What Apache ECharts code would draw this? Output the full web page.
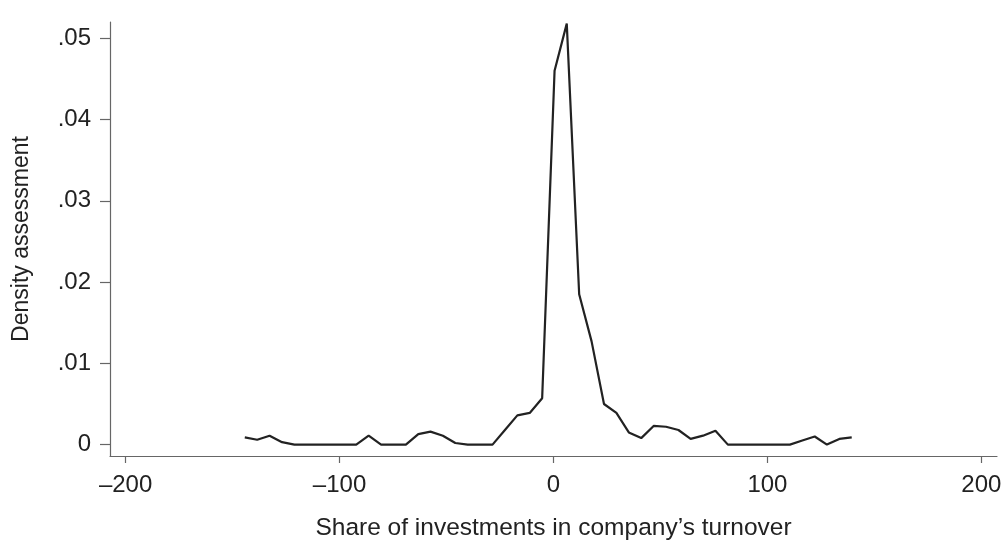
<!DOCTYPE html>
<html>
<head>
<meta charset="utf-8">
<script src="https://cdn.jsdelivr.net/npm/echarts@6/dist/echarts.min.js"></script>
<style>html,body{margin:0;padding:0;background:#fff;}#c{width:1003px;height:542px;}</style>
</head>
<body>
<div id="c"></div>
<script>
var xValues = [-144.3,-138.5,-132.7,-126.9,-121.1,-115.4,-109.6,-103.8,-98.0,-92.2,
  -86.4,-80.6,-74.8,-69.0,-63.2,-57.5,-51.7,-45.9,-40.1,-34.3,
  -28.5,-22.7,-16.9,-11.1,-5.3,0.5,6.2,12.0,17.8,23.6,
  29.4,35.2,41.0,46.8,52.6,58.4,64.1,69.9,75.7,81.5,
  87.3,93.1,98.9,104.7,110.5,116.3,122.1,127.8,133.6,139.4];
var density = [0.0009,0.0006,0.0011,0.0003,0,0,0,0,0,0,
  0.0011,0,0,0,0.0013,0.0016,0.0011,0.0002,0,0,
  0,0.0018,0.0036,0.0039,0.0057,0.0460,0.0518,0.0185,0.0127,0.0050,
  0.0039,0.0015,0.0008,0.0023,0.0022,0.0018,0.0007,0.0011,0.0017,0,
  0,0,0,0,0,0.0005,0.0010,0,0.0007,0.0009];
var xTicks = [-200,-100,0,100,200];
var yTicks = [0,0.01,0.02,0.03,0.04,0.05];
var xTitle = 'Share of investments in company\u2019s turnover';
var yTitle = 'Density assessment';

var pts = xValues.map(function(x,i){return [x, density[i]];});
var chart = echarts.init(document.getElementById('c'), null, {renderer:'canvas'});
var font = 'Liberation Sans';
chart.setOption({
  animation: false,
  grid: {left:110, right:6, top:22, bottom:86, containLabel:false, outerBoundsMode:'none'},
  xAxis: {
    type:'value', min:-207.3, max:207.3,
    axisLine:{show:true, onZero:false, lineStyle:{color:'#666', width:1.2}},
    axisTick:{show:true, length:7, customValues:xTicks, lineStyle:{color:'#666', width:1.2}},
    axisLabel:{customValues:xTicks, color:'#222', fontFamily:font, fontSize:24, margin:17,
      formatter:function(v){return String(v).replace('-', '\u2013');}},
    splitLine:{show:false},
    name: xTitle, nameLocation:'middle', nameGap:60,
    nameTextStyle:{color:'#222', fontFamily:font, fontSize:24.5}
  },
  yAxis: {
    type:'value', min:-0.0014, max:0.052,
    axisLine:{show:true, onZero:false, lineStyle:{color:'#666', width:1.2}},
    axisTick:{show:true, length:10, customValues:yTicks, lineStyle:{color:'#666', width:1.2}},
    axisLabel:{customValues:yTicks, color:'#222', fontFamily:font, fontSize:24, margin:19,
      formatter:function(v){ if(v===0) return '0'; return String(Math.round(v*100)/100).replace(/^0/, ''); }},
    splitLine:{show:false},
    name: yTitle, nameLocation:'middle', nameGap:77, nameRotate:90,
    nameTextStyle:{color:'#222', fontFamily:font, fontSize:23}
  },
  series: [{
    type:'line', data: pts, showSymbol:false, symbol:'none',
    lineStyle:{color:'#222', width:2.2}, smooth:false
  }]
});
</script>
</body>
</html>
